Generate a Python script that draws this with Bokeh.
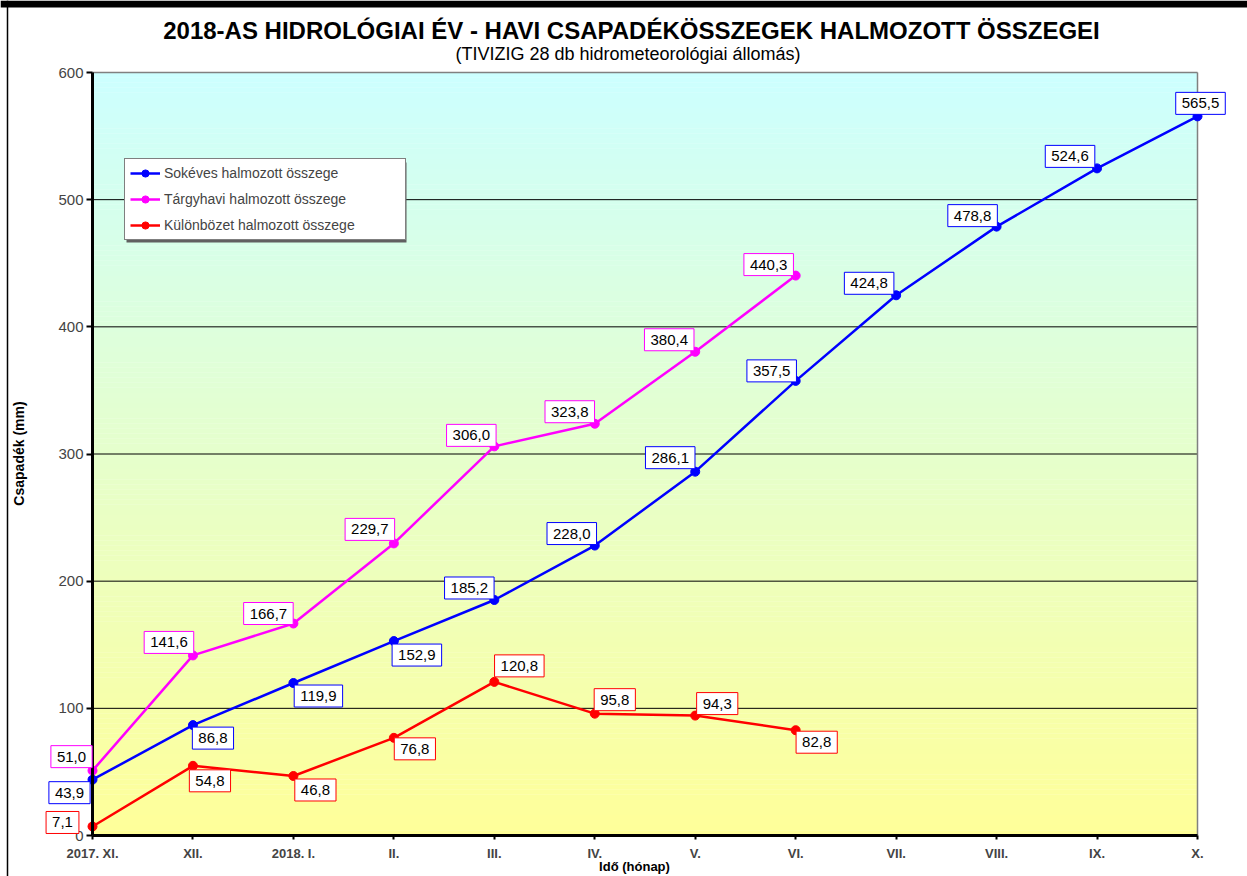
import math
from bokeh.plotting import figure
from bokeh.models import (ColumnDataSource, FixedTicker, Range1d, Legend,
                          LegendItem, Label, BoxAnnotation, Span)
from bokeh.embed import file_html
from bokeh.resources import INLINE

# ---------------- data ----------------
months = ["2017. XI.", "XII.", "2018. I.", "II.", "III.", "IV.", "V.", "VI.",
          "VII.", "VIII.", "IX.", "X."]
sokeves = [43.9, 86.8, 119.9, 152.9, 185.2, 228.0, 286.1, 357.5, 424.8, 478.8, 524.6, 565.5]
targyhavi = [51.0, 141.6, 166.7, 229.7, 306.0, 323.8, 380.4, 440.3]
kulonbozet = [7.1, 54.8, 46.8, 76.8, 120.8, 95.8, 94.3, 82.8]
y_ticks = [0, 100, 200, 300, 400, 500, 600]

series_names = ["Sokéves halmozott összege", "Tárgyhavi halmozott összege",
                "Különbözet halmozott összege"]
title_text = "2018-AS HIDROLÓGIAI ÉV - HAVI CSAPADÉKÖSSZEGEK HALMOZOTT ÖSSZEGEI"
subtitle_text = "(TIVIZIG  28 db hidrometeorológiai állomás)"
x_label = "Idő (hónap)"
y_label = "Csapadék (mm)"

# ---------------- label placement (pixels: right, down) ----------------
off_sokeves = [(-23, 13), (20, 13), (25, 13), (23, 14), (-25, -12), (-23, -12),
               (-25, -14), (-24, -10), (-27, -12), (-24, -11), (-27, -12), (3, -13)]
off_targyhavi = [(-21, -14), (-24, -13), (-25, -10), (-24, -14), (-23, -11),
                 (-25, -12), (-26, -12), (-27, -11)]
off_kulonbozet = [(-30, -4), (17, 15), (22, 14), (21, 11), (25, -16), (20, -14),
                  (22, -12), (21, 12)]

# ---------------- layout (pixels) ----------------
W, H = 1247, 876
PX_X0, PX_XN = 92, 1197      # plot area left / right
PX_Y0, PX_YN = 835, 72       # plot area bottom / top
SX = (PX_XN - PX_X0) / (len(months) - 1)
SY = (PX_Y0 - PX_YN) / (y_ticks[-1] - y_ticks[0])


def ux(px):
    return (px - PX_X0) / SX


def uy(py):
    return y_ticks[0] + (PX_Y0 - py) / SY


FONT = "Liberation Sans"
BLUE, MAGENTA, RED = "#0000FF", "#FF00FF", "#FF0000"
XN = len(months) - 1
YMIN, YMAX = y_ticks[0], y_ticks[-1]

p = figure(width=W, height=H, output_backend="svg", toolbar_location=None,
           x_range=Range1d(ux(0), ux(W)), y_range=Range1d(uy(H), uy(0)),
           min_border_left=0, min_border_right=0, min_border_top=0,
           min_border_bottom=0, title=None)
p.border_fill_color = "white"
p.background_fill_color = "white"
p.outline_line_color = None

# gradient background of plot area (cyan top -> yellow bottom)
n = 150
step = (YMAX - YMIN) / n
bots, tops, cols = [], [], []
for i in range(n):
    b = YMIN + i * step
    t = (b + step / 2 - YMIN) / (YMAX - YMIN)
    r = int(round(255 - 51 * t))
    bl = int(round(153 + 102 * t))
    bots.append(b)
    tops.append(min(YMAX, b + step * 1.05))
    cols.append("#%02X%02X%02X" % (r, 255, bl))
p.quad(left=0, right=XN, bottom=bots, top=tops, fill_color=cols, line_color=None)

# horizontal grid lines and plot-area border (top/right)
p.segment(x0=0, x1=XN, y0=y_ticks[1:-1], y1=y_ticks[1:-1], line_color="black",
          line_width=1)
p.segment(x0=[0, XN], x1=[XN, XN], y0=[YMAX, YMIN], y1=[YMAX, YMAX],
          line_color="#808080", line_width=1.5)

# chart frame decoration (top bar, left line)
p.add_layout(BoxAnnotation(top=uy(0), bottom=uy(7), fill_color="black",
                           fill_alpha=1, line_color=None))
p.add_layout(Span(location=ux(7), dimension="height", line_color="black",
                  line_width=1.5))

# axes pinned to the plot area
xa = p.xaxis[0]
xa.fixed_location = YMIN
xa.bounds = (0, XN)
xa.ticker = FixedTicker(ticks=list(range(len(months))))
xa.major_label_overrides = {i: m for i, m in enumerate(months)}
xa.major_label_text_font = FONT
xa.major_label_text_font_size = "13px"
xa.major_label_text_font_style = "bold"
xa.major_label_standoff = 6
xa.major_tick_in = 0
xa.major_tick_out = 4
xa.minor_tick_line_color = None
xa.axis_line_width = 3
xa.axis_line_color = "black"
xa.major_tick_line_width = 2

ya = p.yaxis[0]
ya.fixed_location = 0
ya.bounds = (YMIN, YMAX)
ya.ticker = FixedTicker(ticks=y_ticks)
ya.major_label_text_font = FONT
ya.major_label_text_font_size = "15px"
ya.major_label_standoff = 3
ya.major_tick_in = 0
ya.major_tick_out = 6
ya.minor_tick_line_color = None
ya.axis_line_width = 3
ya.axis_line_color = "black"
ya.major_tick_line_width = 2

p.xgrid.visible = False
p.ygrid.visible = False

# titles and axis titles
p.add_layout(Label(x=ux(631), y=uy(30), text=title_text, text_align="center",
                   text_baseline="middle", text_font=FONT, text_font_size="24px",
                   text_font_style="bold", text_color="black"))
p.add_layout(Label(x=ux(630), y=uy(53), text=subtitle_text, text_align="center",
                   text_baseline="middle", text_font=FONT, text_font_size="18px",
                   text_color="black"))
p.add_layout(Label(x=ux(634), y=uy(866), text=x_label, text_align="center",
                   text_baseline="middle", text_font=FONT, text_font_size="13px",
                   text_font_style="bold", text_color="black"))
p.add_layout(Label(x=ux(18), y=uy(453), text=y_label, text_align="center",
                   text_baseline="middle", text_font=FONT, text_font_size="14px",
                   text_font_style="bold", text_color="black", angle=math.pi / 2))

# series
items = []
for name, vals, color, offs in [(series_names[0], sokeves, BLUE, off_sokeves),
                                (series_names[1], targyhavi, MAGENTA, off_targyhavi),
                                (series_names[2], kulonbozet, RED, off_kulonbozet)]:
    src = ColumnDataSource(dict(x=list(range(len(vals))), y=vals))
    ln = p.line("x", "y", source=src, line_color=color, line_width=2.5)
    sc = p.scatter("x", "y", source=src, marker="circle", size=9,
                   fill_color=color, line_color=color)
    items.append(LegendItem(label=name, renderers=[ln, sc]))
    for i, v in enumerate(vals):
        dx, dy = offs[i]
        p.add_layout(Label(x=i, y=v, text=("%.1f" % v).replace(".", ","),
                           x_offset=dx, y_offset=-dy, text_align="center",
                           text_baseline="middle", text_font=FONT,
                           text_font_size="15px", text_color="black",
                           background_fill_color="white", background_fill_alpha=1,
                           border_line_color=color, border_line_width=1,
                           padding=dict(left=6, right=6, top=6, bottom=6)))

# legend shadow + legend
p.add_layout(BoxAnnotation(left=ux(126), right=ux(406), top=uy(162), bottom=uy(242),
                           fill_color="#606060", fill_alpha=1, line_color=None))
legend = Legend(items=items, location=(124, H - 240), orientation="vertical",
                label_text_font=FONT, label_text_font_size="14px",
                glyph_width=30, glyph_height=18, label_height=18,
                label_width=236, label_standoff=4, spacing=8, padding=5, margin=0,
                border_line_color="black", border_line_width=1,
                background_fill_color="white", background_fill_alpha=1)
p.add_layout(legend, "center")

open("out.html", "w").write(file_html(p, INLINE))
